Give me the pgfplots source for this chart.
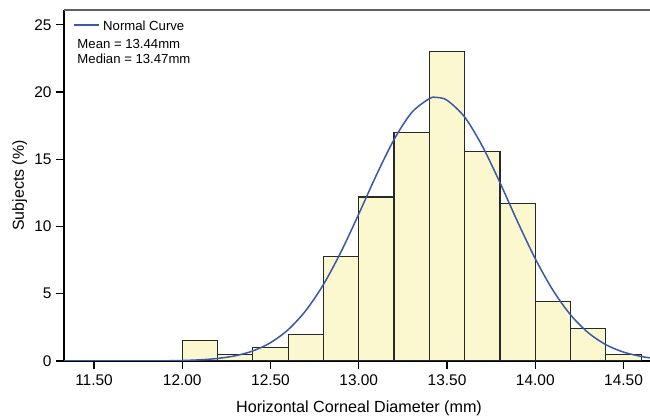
\documentclass[border=0pt]{standalone}
\usepackage{pgfplots}
\pgfplotsset{compat=1.18}
\usepackage{fontspec}
\setmainfont{Liberation Sans}
\definecolor{barfill}{RGB}{251,248,208}
\definecolor{bardraw}{RGB}{40,40,40}
\definecolor{curveblue}{RGB}{58,88,168}
\definecolor{topgray}{RGB}{96,96,96}
\begin{document}
\begin{tikzpicture}
\begin{axis}[
  at={(0,0)}, anchor=south west,
  scale only axis, width=586bp, height=351bp,
  xmin=11.33, xmax=14.65, ymin=0, ymax=26.1,
  axis x line*=bottom, axis y line*=left,
  axis line style={black, line width=1.1bp, -},
  xtick={11.5,12,12.5,13,13.5,14,14.5},
  ytick={0,5,10,15,20,25},
  tick align=outside, major tick length=8bp,
  tick style={black, line width=1.1bp},
  /pgf/number format/assume math mode=true,
  xticklabel style={/pgf/number format/.cd, fixed, fixed zerofill, precision=2, /tikz/.cd, yshift=-2.5bp},
  yticklabel style={xshift=-1bp},
  tick label style={font=\fontsize{15.5}{17}\selectfont},
]
\addplot[ybar interval, fill=barfill, draw=bardraw, line width=1.2bp, forget plot]
coordinates {
(12.0,1.5) (12.2,0.5) (12.4,1.0) (12.6,2.0) (12.8,7.8) (13.0,12.2)
(13.2,17.0) (13.4,23.0) (13.6,15.6) (13.8,11.7) (14.0,4.4) (14.2,2.4)
(14.4,0.5) (14.6,0.5)
};
\addplot[smooth, curveblue, line width=1.5bp, mark=none]
coordinates {
(11.33,0) (11.5,0.0005) (11.7,0.002) (11.9,0.015) (12.0,0.037) (12.1,0.087)
(12.2,0.189) (12.3,0.388) (12.4,0.748) (12.5,1.362) (12.6,2.33) (12.7,3.75)
(12.8,5.69) (12.9,8.13) (13.0,10.93) (13.1,13.83) (13.2,16.47) (13.3,18.48)
(13.4,19.51) (13.44,19.6) (13.5,19.39) (13.6,18.14) (13.7,15.98) (13.8,13.26)
(13.9,10.35) (14.0,7.607) (14.1,5.263) (14.2,3.428) (14.3,2.103) (14.4,1.213)
(14.5,0.660) (14.6,0.338) (14.65,0.236)
};
\end{axis}
\draw[topgray, line width=2bp] (0bp,351bp) -- (600bp,351bp);
% legend
\draw[curveblue, line width=1.5bp] (10bp,336bp) -- (35bp,336bp);
\node[anchor=base west, inner sep=0, font=\fontsize{13.2}{15}\selectfont] at (39bp,330.5bp) {Normal Curve};
\node[anchor=base west, inner sep=0, font=\fontsize{13.2}{15}\selectfont] at (13.3bp,312bp) {Mean = 13.44mm};
\node[anchor=base west, inner sep=0, font=\fontsize{13.2}{15}\selectfont] at (13.3bp,297.7bp) {Median = 13.47mm};
\node[anchor=base, inner sep=0, font=\fontsize{16.2}{18}\selectfont] at (295bp,-51.3bp) {Horizontal Corneal Diameter (mm)};
\node[anchor=base, rotate=90, inner sep=0, font=\fontsize{16}{18}\selectfont] at (-40bp,175.5bp) {Subjects (\%)};
\pgfresetboundingbox
\useasboundingbox (-64bp,-55bp) rectangle (586bp,361bp);
\end{tikzpicture}
\end{document}
